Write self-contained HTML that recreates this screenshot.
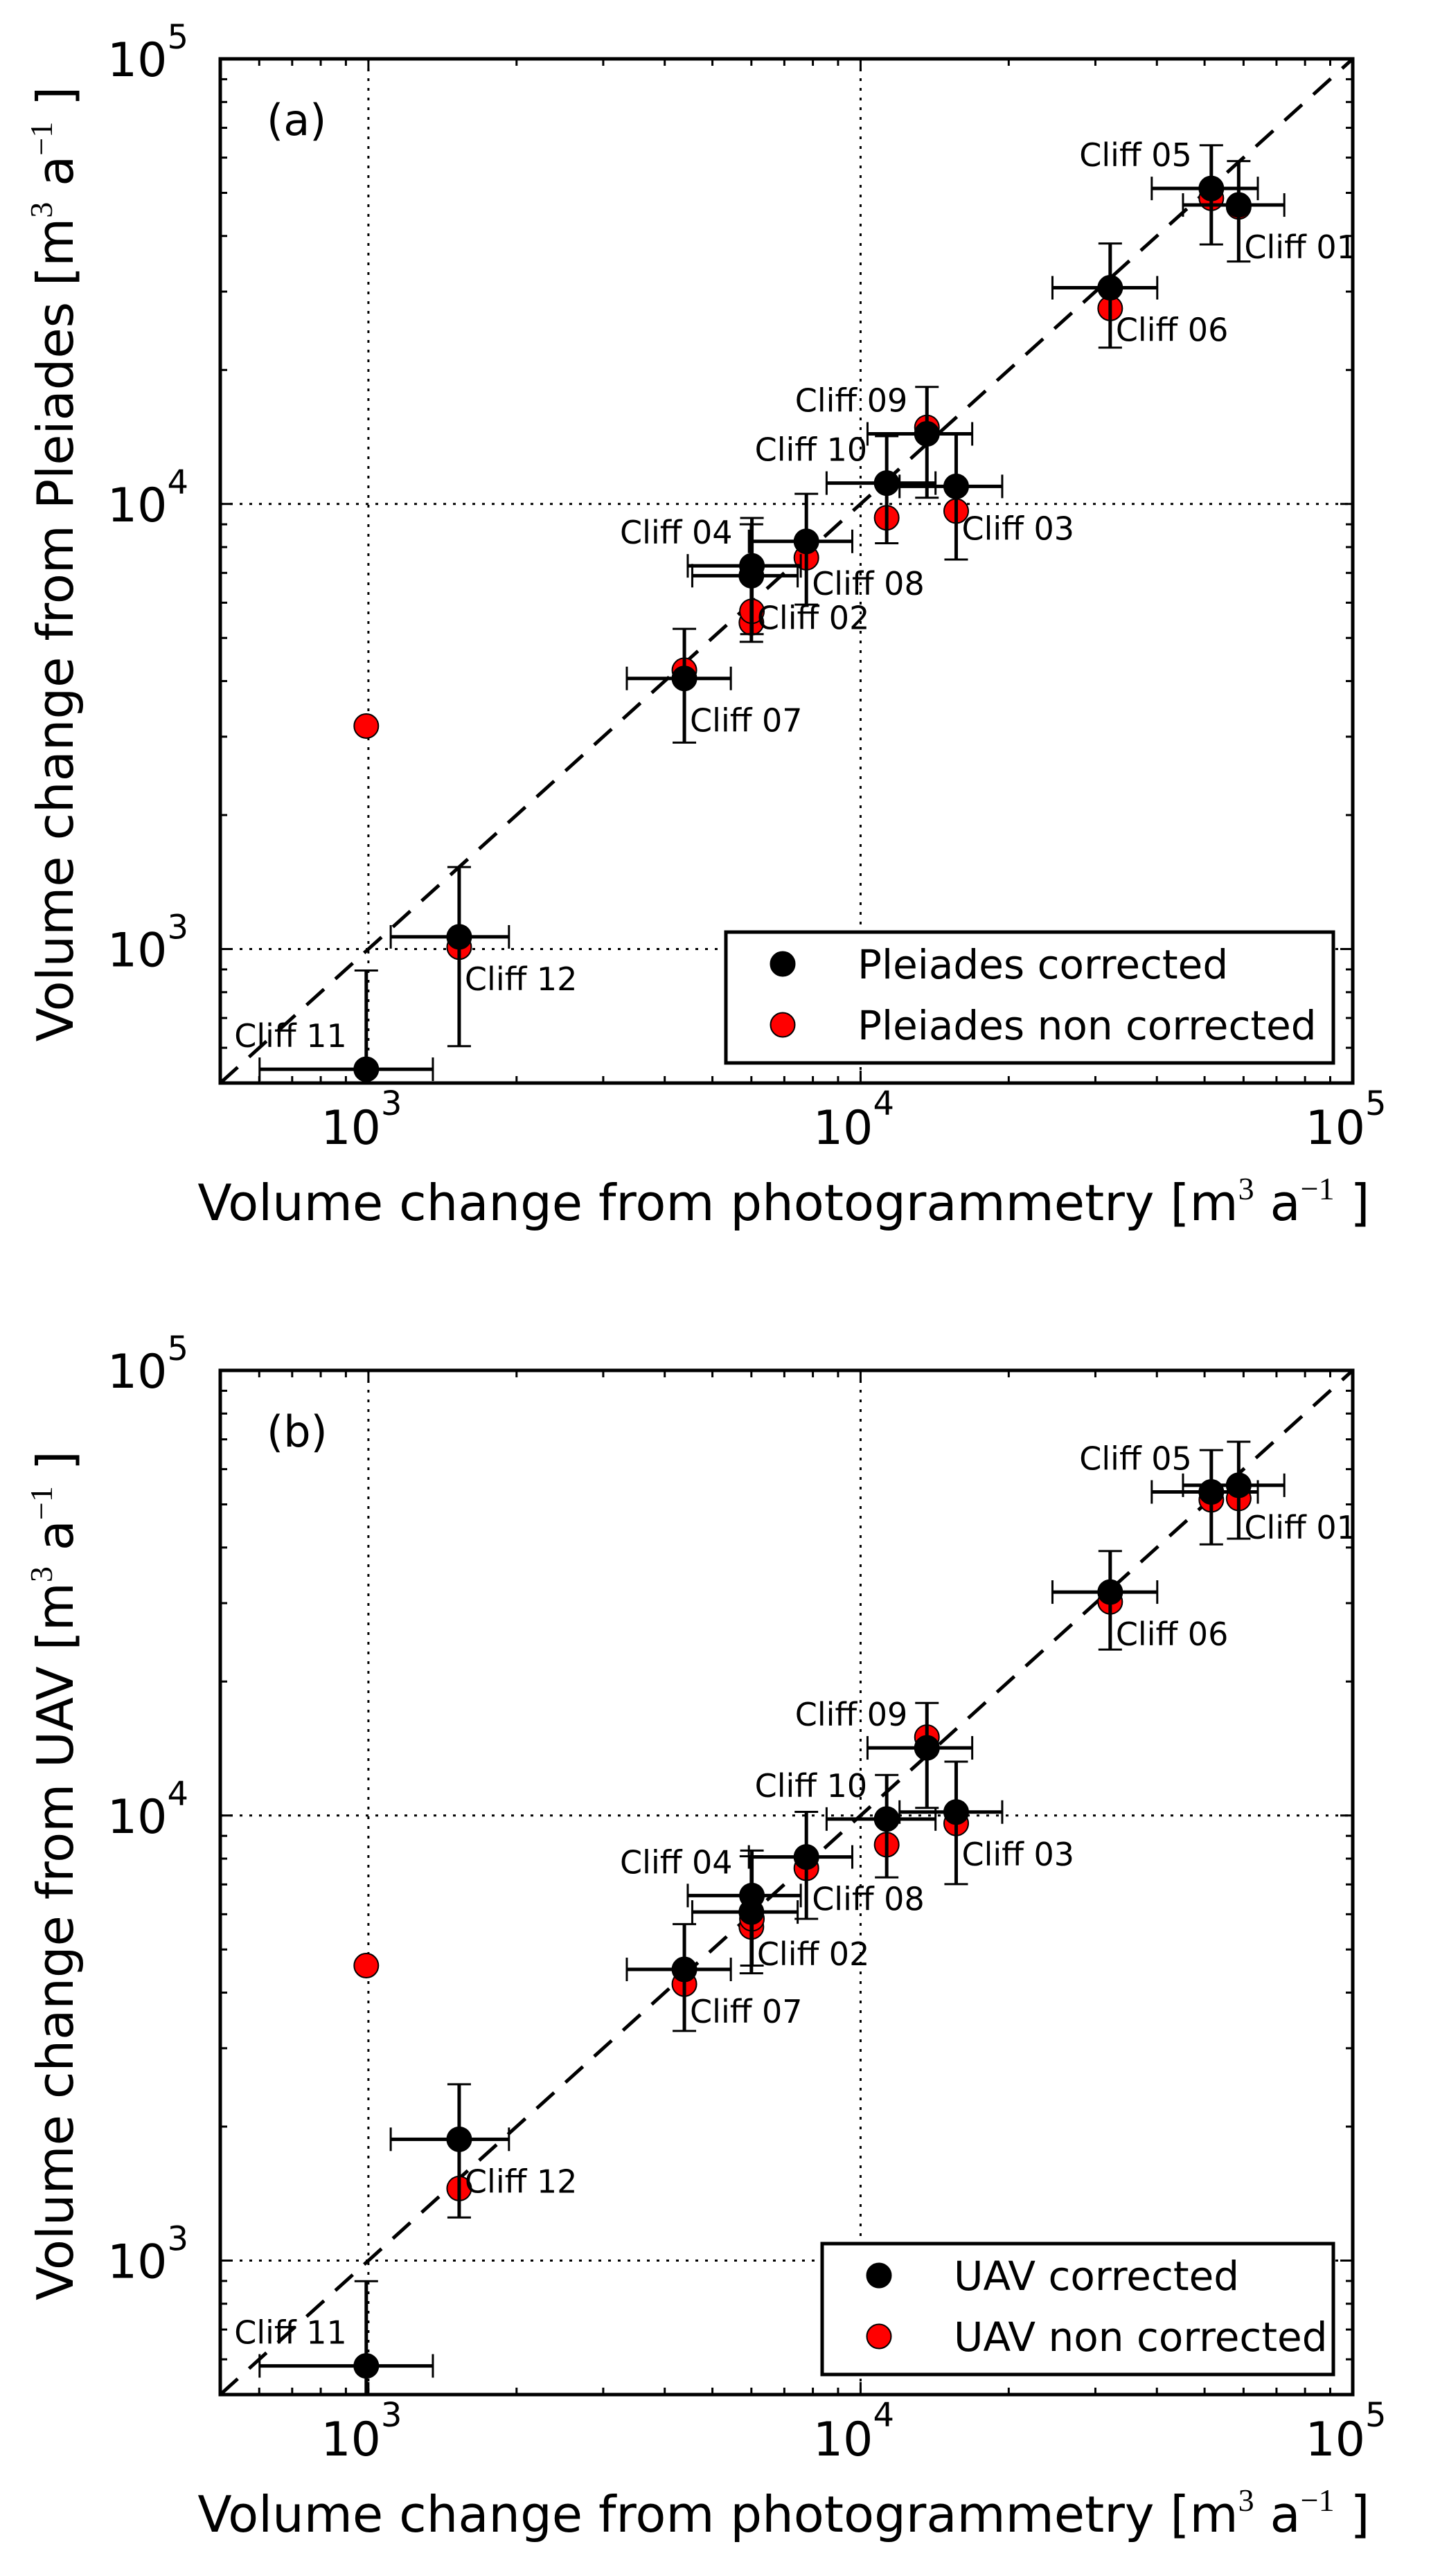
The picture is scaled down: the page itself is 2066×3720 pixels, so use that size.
<!DOCTYPE html>
<html>
<head>
<meta charset="utf-8">
<style>
html,body{margin:0;padding:0;background:#fff;}
svg{display:block;}
text{font-family:"DejaVu Sans","Liberation Sans",sans-serif;fill:#000;}
</style>
</head>
<body>
<svg id="fig" xmlns="http://www.w3.org/2000/svg" width="2066" height="3720" viewBox="0 0 2066 3720">
<rect x="0" y="0" width="2066" height="3720" fill="#fff"/>
</svg>
<script>
// ---- data ----
const cliffNames = ["Cliff 01","Cliff 02","Cliff 03","Cliff 04","Cliff 05","Cliff 06","Cliff 07","Cliff 08","Cliff 09","Cliff 10","Cliff 11","Cliff 12"];
const photoX     = [58650, 6000, 15640, 6015, 51600, 32150, 4385, 7760, 13640, 11300, 990, 1529];
const photoXlo   = [45200, 4550, 12000, 4455, 39050, 24540, 3350, 5930, 10330, 8530, 601, 1110];
const photoXhi   = [72600, 7450, 19400, 7560, 64150, 40070, 5450, 9620, 16860, 14200, 1352, 1930];
const labelPos   = ["lr","lr","lr","ul","ul","lr","lr","lr","ul","ul","ul","lr"];
// panel a (Pleiades)
const pleCorr    = [46950, 6900, 10950, 7260, 51150, 30600, 4055, 8240, 14370, 11140, 537, 1065];
const pleNonCorr = [46500, 5410, 9640, 5740, 48620, 27500, 4230, 7570, 14860, 9310, 3170, 1010];
const pleErrLo   = [35060, 4900, 7500, 5100, 38280, 22450, 2910, 5940, 10330, 8160, 300, 605];
const pleErrHi   = [58930, 9000, 14370, 9300, 63950, 38470, 5240, 10540, 18320, 14200, 895, 1528];
// panel b (UAV)
const uavCorr    = [55200, 6070, 10180, 6610, 53330, 31770, 4510, 8070, 14190, 9820, 580, 1873];
const uavNonCorr = [51560, 5620, 9600, 5860, 51200, 30200, 4180, 7610, 15000, 8600, 4600, 1452];
const uavErrLo   = [41880, 4420, 7010, 4600, 40660, 23600, 3280, 5860, 10400, 7260, 300, 1250];
const uavErrHi   = [69150, 8100, 13210, 8340, 66200, 39270, 5700, 10190, 17900, 12330, 899, 2490];
const tickExps   = [3, 4, 5];
const axisMin = 500, axisMax = 100000;

const NS = "http://www.w3.org/2000/svg";
const svg = document.getElementById("fig");
function mk(tag, attrs, parent){
  const e = document.createElementNS(NS, tag);
  for (const k in attrs) e.setAttribute(k, attrs[k]);
  (parent||svg).appendChild(e);
  return e;
}
const L = 318, R = 1953;
function xs(v){ return L + (Math.log10(v) - Math.log10(axisMin)) / (Math.log10(axisMax) - Math.log10(axisMin)) * (R - L); }
const SUP = 'style="font-family:\'Liberation Serif\',serif"';
const UNIT = ' [m<tspan dy="-30" font-size="46" ' + SUP + '>3</tspan><tspan dy="30">  a</tspan><tspan dy="-30" font-size="46" ' + SUP + '>−1</tspan><tspan dy="30"> ]</tspan>';

function drawPanel(cfg){
  const T = cfg.top, B = cfg.top + 1479;
  function ys(v){ return B - (Math.log10(v) - Math.log10(axisMin)) / (Math.log10(axisMax) - Math.log10(axisMin)) * (B - T); }
  const g = mk("g", {});
  
  
  const clipId = "clip-" + cfg.id;
  const cp = mk("clipPath", {id: clipId}, g);
  mk("rect", {x: L, y: T, width: R - L, height: B - T}, cp);

  const grid = mk("g", {stroke: "#000", "stroke-width": 3, "stroke-dasharray": "4 10"}, g);
  
  
  [3, 4].forEach(e => {
    const v = Math.pow(10, e);
    mk("line", {x1: xs(v), x2: xs(v), y1: T, y2: B}, grid);
    mk("line", {x1: L, x2: R, y1: ys(v), y2: ys(v)}, grid);
  });

  const diag = mk("line", {x1: xs(axisMin), y1: ys(axisMin), x2: xs(axisMax), y2: ys(axisMax), stroke: "#000", "stroke-width": 5, "stroke-dasharray": "34 22", "clip-path": "url(#" + clipId + ")"}, g);
  
  

  const dg = mk("g", {"clip-path": "url(#" + clipId + ")"}, g);
  cliffNames.forEach((n, i) => {
    const c = mk("circle", {cx: xs(photoX[i]), cy: ys(cfg.non[i]), r: 17.5, fill: "#ff0000", stroke: "#000", "stroke-width": 2}, dg);
    
    
  });
  cliffNames.forEach((n, i) => {
    const x = xs(photoX[i]), y = ys(cfg.corr[i]);
    const eb = mk("g", {stroke: "#000"}, dg);
    
    
    const yl = ys(cfg.lo[i]), yh = ys(cfg.hi[i]);
    const xl = xs(photoXlo[i]), xh = xs(photoXhi[i]);
    mk("line", {x1: x, x2: x, y1: yl, y2: yh, "stroke-width": 5}, eb);
    mk("line", {x1: xl, x2: xh, y1: y, y2: y, "stroke-width": 5}, eb);
    mk("line", {x1: x - 17, x2: x + 17, y1: yl, y2: yl, "stroke-width": 3}, eb);
    mk("line", {x1: x - 17, x2: x + 17, y1: yh, y2: yh, "stroke-width": 3}, eb);
    mk("line", {x1: xl, x2: xl, y1: y - 17, y2: y + 17, "stroke-width": 3}, eb);
    mk("line", {x1: xh, x2: xh, y1: y - 17, y2: y + 17, "stroke-width": 3}, eb);
  });
  cliffNames.forEach((n, i) => {
    const c = mk("circle", {cx: xs(photoX[i]), cy: ys(cfg.corr[i]), r: 17.5, fill: "#000", stroke: "#000", "stroke-width": 2}, dg);
    
    
  });
  cliffNames.forEach((n, i) => {
    const x = xs(photoX[i]), y = ys(cfg.corr[i]);
    const ul = labelPos[i] === "ul";
    const t = mk("text", {x: ul ? x - 28 : x + 8, y: ul ? y - 49 + 17 : y + 60 + 17, "font-size": 46, "text-anchor": ul ? "end" : "start"}, g);
    t.textContent = n;
    
    
  });

  const tk = mk("g", {stroke: "#000", "stroke-width": 3}, g);
  
  
  for (let e = 2; e <= 4; e++) {
    for (let m = 1; m <= 9; m++) {
      const v = m * Math.pow(10, e);
      if (v < axisMin || v > axisMax) continue;
      const len = m === 1 ? 18 : 10;
      const px = xs(v), py = ys(v);
      mk("line", {x1: px, x2: px, y1: B, y2: B - len}, tk);
      mk("line", {x1: px, x2: px, y1: T, y2: T + len}, tk);
      mk("line", {x1: L, x2: L + len, y1: py, y2: py}, tk);
      mk("line", {x1: R, x2: R - len, y1: py, y2: py}, tk);
    }
  }
  const fr = mk("rect", {x: L, y: T, width: R - L, height: B - T, fill: "none", stroke: "#000", "stroke-width": 5}, g);
  
  

  tickExps.forEach(e => {
    const v = Math.pow(10, e);
    const tx = mk("text", {x: xs(v) - 10, y: B + 88, "font-size": 68, "text-anchor": "middle"}, g);
    
    
    tx.appendChild(document.createTextNode("10"));
    const s1 = mk("tspan", {dy: -42, "font-size": 48}, tx);
    s1.textContent = String(e);
    const ty = mk("text", {x: 272, y: ys(v) + 25, "font-size": 68, "text-anchor": "end"}, g);
    
    
    ty.appendChild(document.createTextNode("10"));
    const s2 = mk("tspan", {dy: -40, "font-size": 48}, ty);
    s2.textContent = String(e);
  });

  const pl = mk("text", {x: 385, y: T + 110, "font-size": 62}, g);
  pl.textContent = cfg.letter;
  
  

  const xl = mk("text", {x: (L + R) / 2 - 4, y: B + 198, "font-size": 72, "text-anchor": "middle"}, g);
  
  
  xl.innerHTML = 'Volume change from photogrammetry' + UNIT;
  const cy = (T + B) / 2 - 10;
  const yl = mk("text", {x: 0, y: 0, "font-size": 72, "text-anchor": "middle", transform: "translate(105," + cy + ") rotate(-90)"}, g);
  
  
  yl.innerHTML = cfg.ytitle + UNIT;

  const lg = mk("g", {}, g);
  
  
  mk("rect", {x: cfg.legX, y: T + 1261, width: 1925 - cfg.legX, height: 189, fill: "#fff", stroke: "#000", "stroke-width": 5}, lg);
  const e1 = mk("circle", {cx: cfg.legX + 82, cy: T + 1307, r: 17.5, fill: "#000", stroke: "#000", "stroke-width": 2}, lg);
  
  
  const e2 = mk("circle", {cx: cfg.legX + 82, cy: T + 1395, r: 17.5, fill: "#ff0000", stroke: "#000", "stroke-width": 2}, lg);
  
  
  const t1 = mk("text", {x: cfg.legX + 190, y: T + 1328, "font-size": 58}, lg);
  t1.textContent = cfg.leg1;
  
  
  const t2 = mk("text", {x: cfg.legX + 190, y: T + 1416, "font-size": 58}, lg);
  t2.textContent = cfg.leg2;
  
  
}

drawPanel({id: "a", top: 85, letter: "(a)", corr: pleCorr, non: pleNonCorr, lo: pleErrLo, hi: pleErrHi,
  ytitle: "Volume change from Pleiades", legX: 1048, leg1: "Pleiades corrected", leg2: "Pleiades non corrected"});
drawPanel({id: "b", top: 1979, letter: "(b)", corr: uavCorr, non: uavNonCorr, lo: uavErrLo, hi: uavErrHi,
  ytitle: "Volume change from UAV", legX: 1187, leg1: "UAV corrected", leg2: "UAV non corrected"});
</script>
</body>
</html>
